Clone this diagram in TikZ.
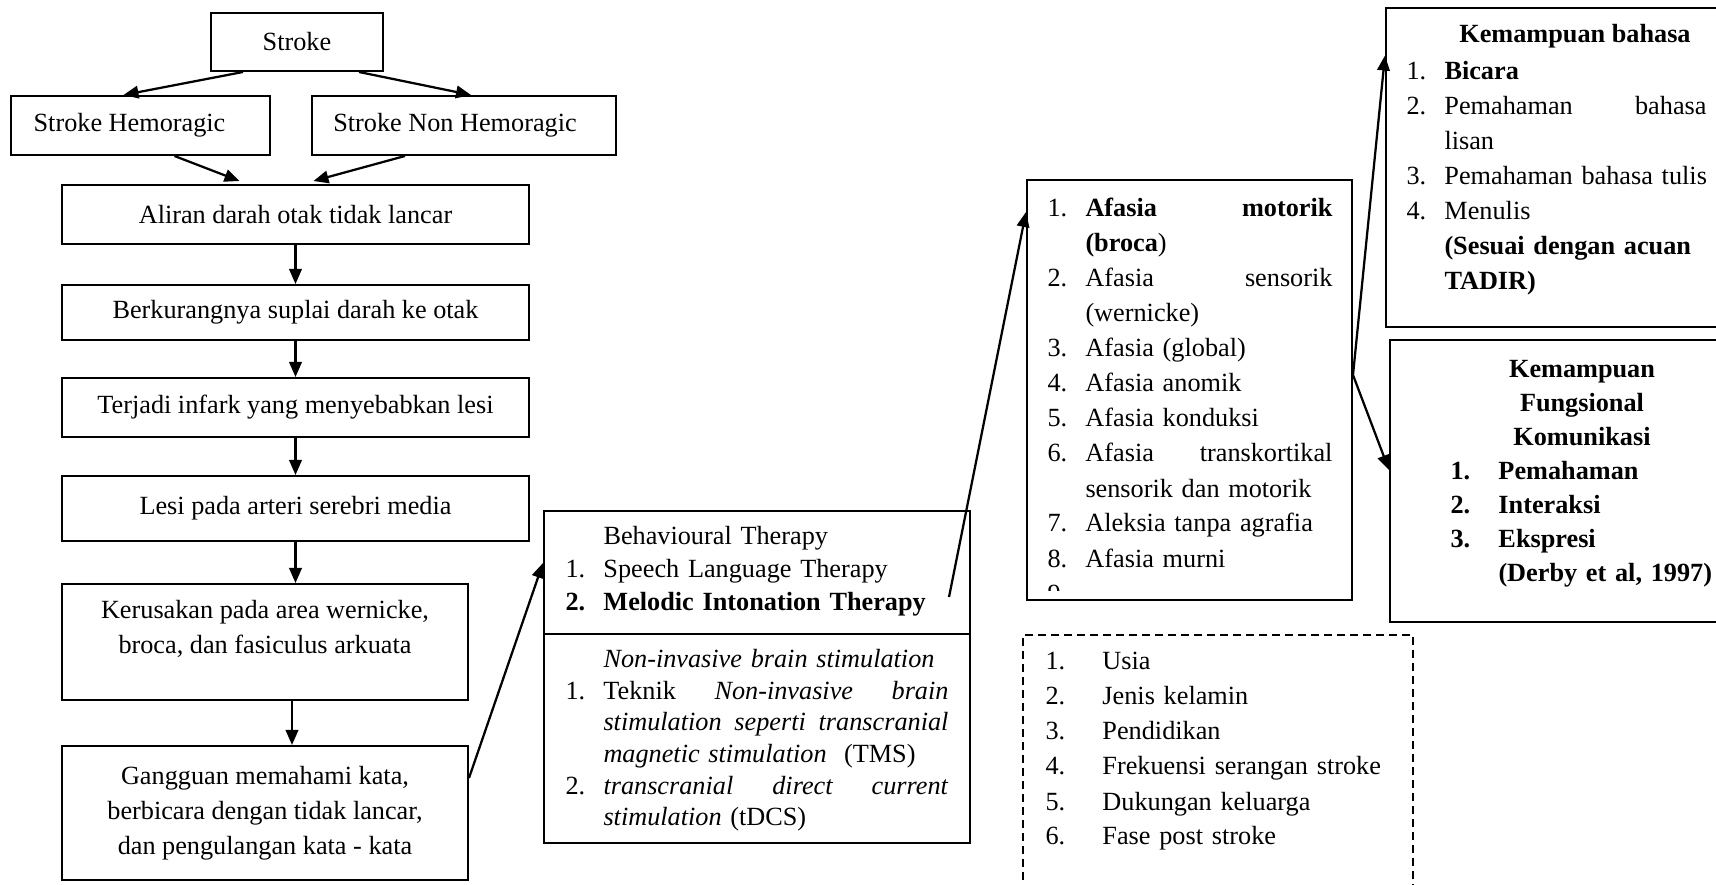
\documentclass[tikz,border=0pt]{standalone}
\usepackage{fontspec}
\setmainfont{Liberation Serif}
\usetikzlibrary{calc}
\usetikzlibrary{arrows.meta}

\newcommand{\lnum}[1]{\makebox[15.2pt][l]{#1}}
\newcommand{\lgap}{\hspace*{15.2pt}}

\begin{document}
\begin{tikzpicture}[x=0.4pt,y=-0.4pt,
	every node/.style={font=\fontsize{10.5}{14}\selectfont, inner sep=0pt},
	box/.style={draw, rectangle, line width=0.8pt, align=center},
	arr/.style={-{Triangle[length=6pt,width=5pt]}, line width=0.9pt},
	lst/.style={anchor=base west, text width=#1}]
	\useasboundingbox (0,0) rectangle (1716,885);

	% left column
	\node[box, minimum width=68.8pt, minimum height=23.2pt] (stroke) at (297,42) {Stroke};
	\node[box, minimum width=103.6pt, minimum height=23.6pt] (hemo) at (140.5,125.5) {Stroke Hemoragic\hspace*{8.8pt}};
	\node[box, minimum width=121.6pt, minimum height=23.6pt] (nonhemo) at (464,125.5) {Stroke Non Hemoragic\hspace*{7.2pt}};
	\node[box, minimum width=186.8pt, minimum height=23.6pt] (aliran) at (295.5,214.5) {Aliran darah otak tidak lancar};
	\node[box, minimum width=186.8pt, minimum height=22pt] (suplai) at (295.5,312.5) {Berkurangnya suplai darah ke otak};
	\node[box, minimum width=186.8pt, minimum height=23.6pt] (infark) at (295.5,407.5) {Terjadi infark yang menyebabkan lesi};
	\node[box, minimum width=186.8pt, minimum height=26pt] (lesi) at (295.5,508.5) {Lesi pada arteri serebri media};
	\node[box, minimum width=162.4pt, minimum height=46.4pt] (kerusakan) at (265,642)
		{Kerusakan pada area wernicke,\\ broca, dan fasiculus arkuata\rule[-11.8pt]{0pt}{0pt}};
	\node[box, minimum width=162.4pt, minimum height=53.6pt] (gangguan) at (265,813)
		{Gangguan memahami kata,\\ berbicara dengan tidak lancar,\\ dan pengulangan kata - kata};

	% therapy box
	\node[box, minimum width=170.4pt, minimum height=132.8pt] (therapy) at (757,677) {};
	\draw[line width=0.8pt] ($(therapy.north west)+(0,124)$) -- ($(therapy.north east)+(0,124)$);
	\node[lst=153.2pt, font=\fontsize{10.5}{13.2}\selectfont] (behav) at (565,545)
		{\lgap Behavioural Therapy\par
		\lnum{1.}Speech Language Therapy\par
		\textbf{\lnum{2.}Melodic Intonation Therapy}};
	\node[lst=153.2pt, font=\fontsize{10.5}{12.6}\selectfont] (nibs) at (565,668)
		{\lgap\textit{Non-invasive brain stimulation}\par
		\lnum{1.}Teknik\hfill\textit{Non-invasive}\hfill\textit{brain}\par
		\lgap\textit{stimulation\hfill seperti\hfill transcranial}\par
		\lgap\textit{magnetic stimulation}\ \ (TMS)\par
		\lnum{2.}\textit{transcranial\hfill direct\hfill current}\par
		\lgap\textit{stimulation} (tDCS)};

	% afasia box
	\node[box, minimum width=130pt, minimum height=168pt] (afasia) at (1189.5,390) {};
	\begin{scope}
		\clip ($(afasia.south west)+(0,-11)$) rectangle (afasia.north east);
		\node[lst=114pt] (jenis) at (1047,217)
			{\lnum{1.}\textbf{Afasia\hfill motorik}\par
			\lgap\textbf{(broca})\par
			\lnum{2.}Afasia\hfill sensorik\par
			\lgap(wernicke)\par
			\lnum{3.}Afasia (global)\par
			\lnum{4.}Afasia anomik\par
			\lnum{5.}Afasia konduksi\par
			\lnum{6.}Afasia\hfill transkortikal\par
			\lgap sensorik dan motorik\par
			\lnum{7.}Aleksia tanpa agrafia\par
			\lnum{8.}Afasia murni\par
			\lnum{9.}};
	\end{scope}

	% faktor (dashed)
	\node[draw, rectangle, line width=0.8pt, dash pattern=on 3.2pt off 2pt,
		minimum width=156pt, minimum height=108pt] (faktor) at (1218,770) {};
	\node[lst=150pt] (faktorlist) at (1045,670)
		{\makebox[22.8pt][l]{1.}Usia\par
		\makebox[22.8pt][l]{2.}Jenis kelamin\par
		\makebox[22.8pt][l]{3.}Pendidikan\par
		\makebox[22.8pt][l]{4.}Frekuensi serangan stroke\par
		\makebox[22.8pt][l]{5.}Dukungan keluarga\par
		\makebox[22.8pt][l]{6.}Fase post stroke};

	% right boxes
	\node[box, minimum width=137.6pt, minimum height=127.6pt] (KB) at (1558,167.5) {};
	\node[anchor=base, font=\fontsize{10.5}{14}\bfseries] (KBtitle) at (1575,43) {Kemampuan bahasa};
	\node[lst=120pt] (KBlist) at (1406,80)
		{\lnum{1.}\textbf{Bicara}\par
		\lnum{2.}Pemahaman\hfill bahasa\par
		\lgap lisan\par
		\lnum{3.}\mbox{Pemahaman bahasa tulis}\par
		\lnum{4.}Menulis\par
		\lgap\textbf{(Sesuai dengan acuan}\par
		\lgap\textbf{TADIR)}};

	\node[box, minimum width=136pt, minimum height=112.8pt] (KF) at (1560,481) {};
	\node[anchor=base, text width=150pt, align=center, font=\fontsize{10.5}{13.6}\bfseries] (KFtitle) at (1582,378)
		{Kemampuan\\ Fungsional\\ Komunikasi};
	\node[lst=110pt, font=\fontsize{10.5}{13.6}\bfseries] (KFlist) at (1450,480)
		{\makebox[19.2pt][l]{1.}Pemahaman\par
		\makebox[19.2pt][l]{2.}Interaksi\par
		\makebox[19.2pt][l]{3.}Ekspresi\par
		\hspace*{19.2pt}(Derby et al, 1997)};

	% connectors
	\draw[arr] ($(stroke.south)+(-54,0)$) -- ($(hemo.north)+(-17,0)$);
	\draw[arr] ($(stroke.south)+(62,0)$) -- ($(nonhemo.north)+(7,0)$);
	\draw[arr] ($(hemo.south)+(34,0)$) -- ($(aliran.north)+(-56,-3)$);
	\draw[arr] ($(nonhemo.south)+(-59,0)$) -- ($(aliran.north)+(18,-3)$);
	\draw[arr] (aliran.south) -- (suplai.north);
	\draw[arr] (suplai.south) -- (infark.north);
	\draw[arr] (infark.south) -- (lesi.north);
	\draw[arr] (lesi.south) -- (lesi.south |- kerusakan.north);
	\draw[arr] ($(kerusakan.south)+(27,0)$) -- ($(gangguan.north)+(27,0)$);
	\draw[arr] ($(gangguan.east)+(0,-35)$) -- ($(therapy.west)+(0,-114)$);
	\draw[arr] ($(therapy.north east)+(-22,87)$) -- ($(afasia.north west)+(0,33)$);
	\coordinate (split) at ($(afasia.east)+(0,-15)$);
	\draw[arr] (split) -- ($(KB.west)+(0,-112)$);
	\draw[arr] (split) -- ($(KF.west)+(0,-11)$);
\end{tikzpicture}
\end{document}
